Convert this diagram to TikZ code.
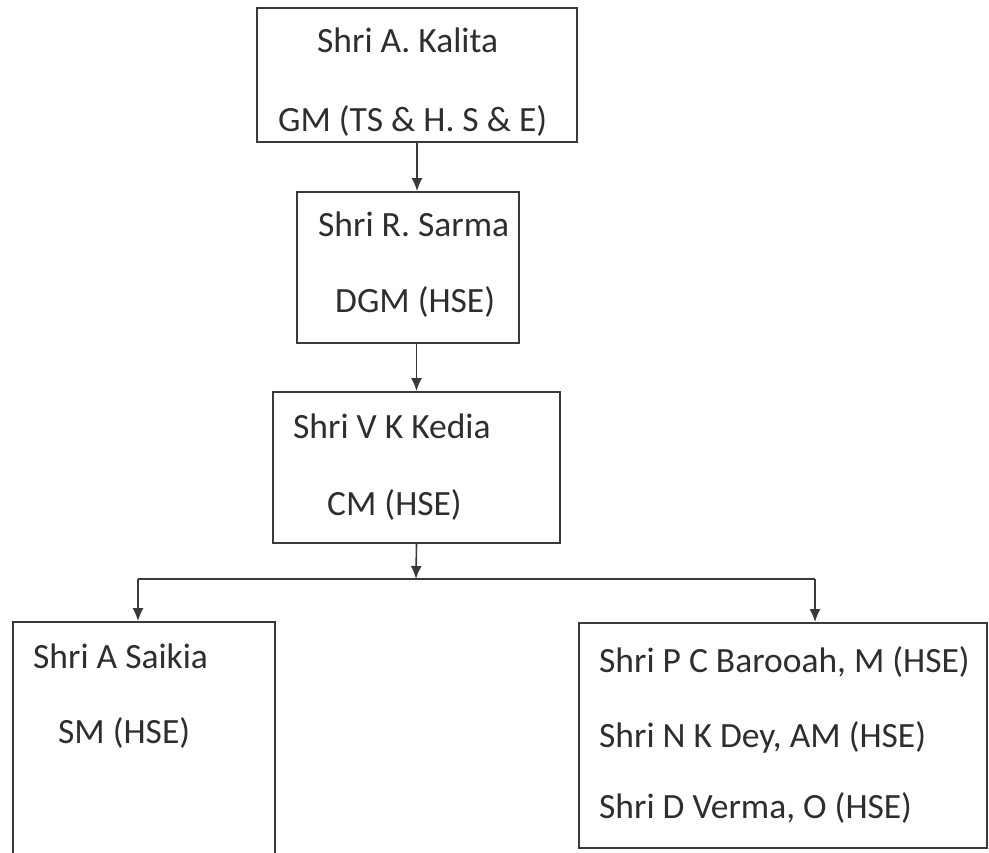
\documentclass[tikz,border=0pt]{standalone}
\usepackage{fontspec}
\setmainfont{Carlito}
\usetikzlibrary{arrows.meta}
\definecolor{ink}{HTML}{2E2E2E}
\definecolor{edge}{HTML}{3A3A3A}
\tikzset{
  box/.style={draw=edge, line width=1.8pt, rectangle, inner sep=0pt},
  lbl/.style={anchor=base west, inner sep=0pt, text=ink, font=\fontsize{35.5}{42}\selectfont},
  conn/.style={draw=edge, line width=1.6pt, -{Latex[length=13pt,width=11pt]}},
  bus/.style={draw=edge, line width=1.6pt}
}
\begin{document}
\begin{tikzpicture}[x=1pt,y=-1pt]
\useasboundingbox (0,0) rectangle (989,853);
% boxes
\node[box, minimum width=320pt, minimum height=134pt] (b1) at (417,75) {};
\node[box, minimum width=222pt, minimum height=151pt] (b2) at (408,267.5) {};
\node[box, minimum width=287pt, minimum height=151pt] (b3) at (416.5,467.5) {};
\node[box, minimum width=262pt, minimum height=258pt] (b4) at (144,751) {};
\node[box, minimum width=408pt, minimum height=225pt] (b5) at (783,735.5) {};
% texts
\node[lbl] (t1a) at (317,53) {Shri A. Kalita};
\node[lbl] (t1b) at (278,132) {GM (TS \& H. S \& E)};
\node[lbl] (t2a) at (318,237) {Shri R. Sarma};
\node[lbl] (t2b) at (335,313) {DGM (HSE)};
\node[lbl] (t3a) at (293,438) {Shri V K Kedia};
\node[lbl] (t3b) at (327,515) {CM (HSE)};
\node[lbl] (t4a) at (33,668) {Shri A Saikia};
\node[lbl] (t4b) at (58,743) {SM (HSE)};
\node[lbl] (t5a) at (599,672) {Shri P C Barooah, M (HSE)};
\node[lbl] (t5b) at (599,747) {Shri N K Dey, AM (HSE)};
\node[lbl] (t5c) at (599,818) {Shri D Verma, O (HSE)};
% connectors
\coordinate (j) at (416,579);
\coordinate (jl) at (138,579);
\coordinate (jr) at (815,579);
\draw[conn] (b1.south) -- (b1.south |- b2.north);
\draw[conn] (b3.north |- b2.south) -- (b3.north);
\draw[conn] (b3.south) -- (j);
\draw[bus] (jl) -- (jr);
\draw[conn] (jl) -- (jl |- b4.north);
\draw[conn] (jr) -- (jr |- b5.north);
\end{tikzpicture}
\end{document}
